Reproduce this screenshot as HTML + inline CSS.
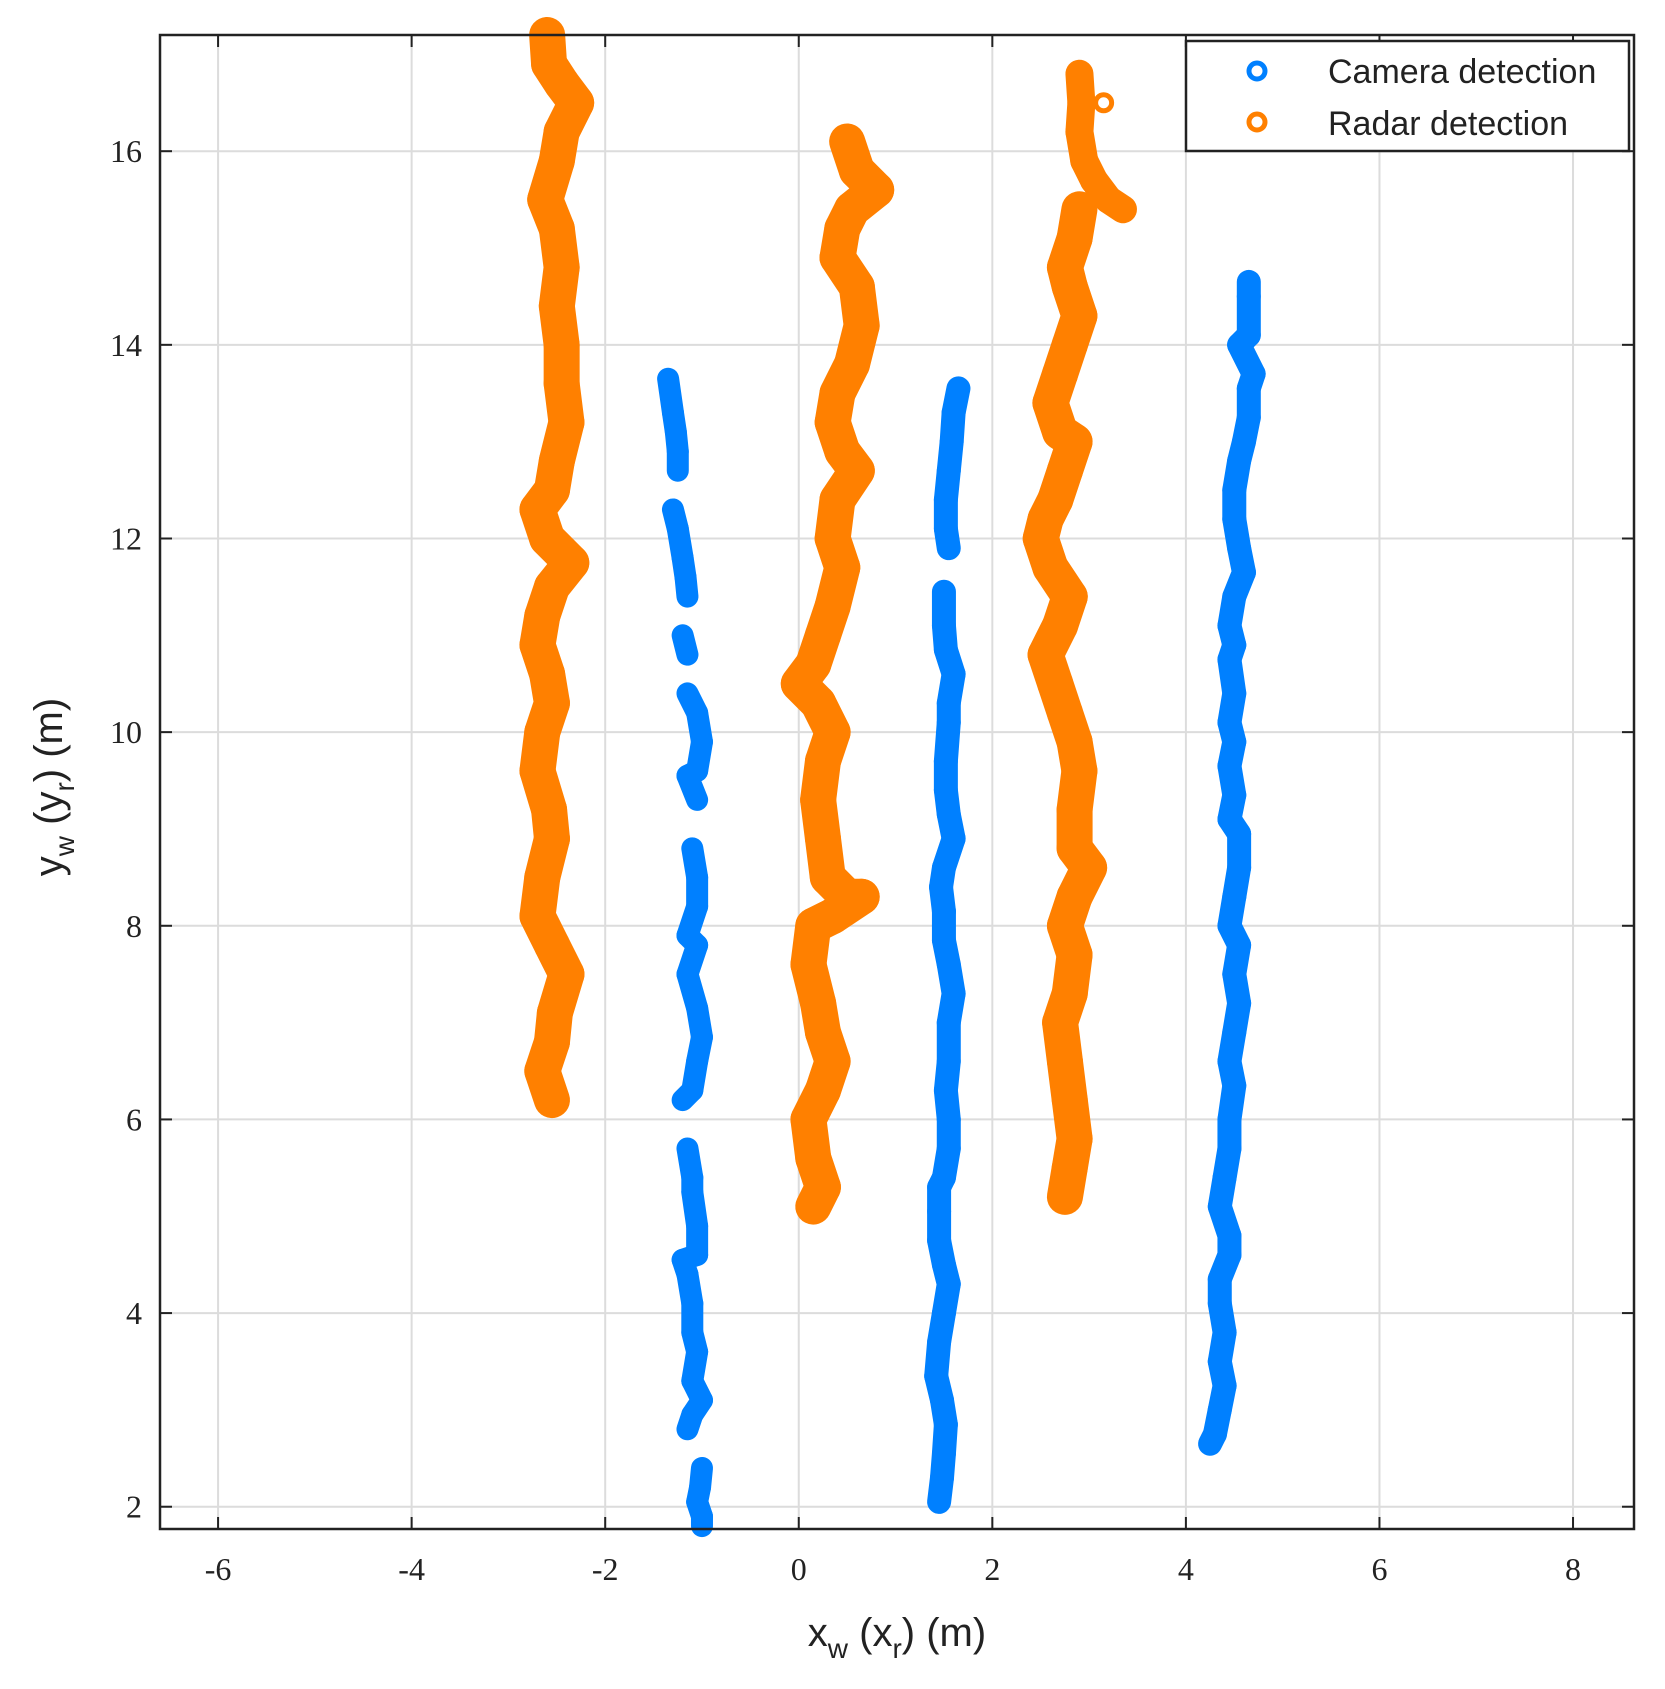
<!DOCTYPE html>
<html><head><meta charset="utf-8"><style>
body{margin:0;background:#fff;}
svg{display:block;}
</style></head><body>
<svg id="chart" width="1665" height="1689" viewBox="0 0 1665 1689" xmlns="http://www.w3.org/2000/svg"></svg>
<script>
const xTicks=[-6,-4,-2,0,2,4,6,8];
const yTicks=[2,4,6,8,10,12,14,16];
const radarA=[[-2.6,17.2],[-2.58,16.9],[-2.45,16.7],[-2.3,16.5],[-2.45,16.2],[-2.5,15.9],[-2.62,15.5],[-2.5,15.2],[-2.45,14.8],[-2.5,14.4],[-2.45,14.0],[-2.45,13.6],[-2.4,13.2],[-2.5,12.8],[-2.55,12.5],[-2.7,12.3],[-2.6,12.0],[-2.35,11.75],[-2.55,11.5],[-2.65,11.2],[-2.7,10.9],[-2.6,10.6],[-2.55,10.3],[-2.65,10.0],[-2.7,9.6],[-2.58,9.2],[-2.55,8.9],[-2.65,8.5],[-2.7,8.1],[-2.55,7.8],[-2.4,7.5],[-2.52,7.1],[-2.55,6.8],[-2.65,6.5],[-2.55,6.2]];
const radarB=[[0.5,16.1],[0.6,15.8],[0.8,15.6],[0.55,15.4],[0.45,15.2],[0.4,14.9],[0.6,14.6],[0.65,14.2],[0.55,13.8],[0.4,13.5],[0.35,13.2],[0.45,12.9],[0.6,12.7],[0.4,12.4],[0.35,12.0],[0.45,11.7],[0.35,11.3],[0.25,11.0],[0.15,10.7],[0.0,10.5],[0.2,10.3],[0.35,10.0],[0.25,9.7],[0.2,9.3],[0.25,8.9],[0.3,8.5],[0.5,8.3],[0.65,8.3],[0.35,8.1],[0.15,8.0],[0.1,7.6],[0.2,7.2],[0.25,6.9],[0.35,6.6],[0.25,6.3],[0.1,6.0],[0.15,5.6],[0.25,5.3],[0.15,5.1]];
const radarCTop=[[2.9,16.8],[2.92,16.5],[2.9,16.2],[2.95,15.9],[3.05,15.7],[3.2,15.5],[3.35,15.4]];
const radarCOutlier=[[3.15,16.5]];
const radarC=[[2.9,15.4],[2.85,15.1],[2.75,14.8],[2.8,14.6],[2.9,14.3],[2.8,14.0],[2.7,13.7],[2.6,13.4],[2.7,13.1],[2.85,13.0],[2.75,12.7],[2.65,12.4],[2.55,12.2],[2.5,12.0],[2.6,11.7],[2.8,11.4],[2.7,11.1],[2.55,10.8],[2.65,10.5],[2.75,10.2],[2.85,9.9],[2.9,9.6],[2.85,9.2],[2.85,8.8],[3.0,8.6],[2.85,8.3],[2.75,8.0],[2.85,7.7],[2.8,7.3],[2.7,7.0],[2.75,6.6],[2.8,6.2],[2.85,5.8],[2.8,5.5],[2.75,5.2]];
const camera1=[[-1.35,13.65],[-1.3,13.3],[-1.27,13.1],[-1.25,12.9],[-1.25,12.7],[-1.3,12.3],[-1.25,12.1],[-1.2,11.8],[-1.17,11.6],[-1.15,11.4],[-1.2,11.0],[-1.15,10.8],[-1.15,10.4],[-1.05,10.2],[-1.0,9.9],[-1.05,9.6],[-1.15,9.55],[-1.05,9.3],[-1.1,8.8],[-1.05,8.5],[-1.05,8.2],[-1.15,7.9],[-1.05,7.8],[-1.15,7.5],[-1.05,7.15],[-1.0,6.85],[-1.05,6.6],[-1.1,6.3],[-1.2,6.2],[-1.15,5.7],[-1.1,5.4],[-1.1,5.25],[-1.05,4.9],[-1.05,4.6],[-1.2,4.55],[-1.15,4.4],[-1.1,4.1],[-1.1,3.8],[-1.05,3.6],[-1.1,3.3],[-1.0,3.1],[-1.1,2.95],[-1.15,2.8],[-1.0,2.4],[-1.02,2.2],[-1.05,2.05],[-1.0,1.9],[-1.0,1.8]];
const camera2=[[1.65,13.55],[1.6,13.3],[1.58,13.0],[1.55,12.7],[1.52,12.4],[1.52,12.1],[1.55,11.9],[1.5,11.45],[1.5,11.1],[1.52,10.85],[1.6,10.6],[1.55,10.3],[1.55,10.1],[1.52,9.7],[1.52,9.4],[1.55,9.15],[1.6,8.9],[1.5,8.6],[1.47,8.4],[1.5,8.15],[1.5,7.85],[1.55,7.6],[1.6,7.3],[1.55,7.0],[1.55,6.6],[1.52,6.3],[1.55,6.0],[1.55,5.7],[1.5,5.4],[1.45,5.3],[1.45,5.05],[1.45,4.75],[1.5,4.5],[1.55,4.3],[1.5,4.0],[1.45,3.7],[1.42,3.35],[1.48,3.1],[1.52,2.85],[1.5,2.55],[1.48,2.3],[1.45,2.05]];
const camera3=[[4.65,14.65],[4.65,14.5],[4.65,14.1],[4.55,14.0],[4.7,13.7],[4.65,13.55],[4.65,13.25],[4.6,13.0],[4.55,12.8],[4.5,12.5],[4.5,12.2],[4.55,11.9],[4.6,11.65],[4.5,11.4],[4.45,11.1],[4.5,10.9],[4.45,10.75],[4.5,10.4],[4.45,10.1],[4.5,9.9],[4.45,9.65],[4.5,9.35],[4.45,9.1],[4.55,8.95],[4.55,8.6],[4.5,8.3],[4.45,8.0],[4.55,7.8],[4.5,7.5],[4.55,7.2],[4.5,6.9],[4.45,6.6],[4.5,6.35],[4.45,6.0],[4.45,5.7],[4.4,5.4],[4.35,5.1],[4.45,4.8],[4.45,4.6],[4.35,4.35],[4.35,4.1],[4.4,3.8],[4.35,3.5],[4.4,3.25],[4.35,3.0],[4.3,2.75],[4.25,2.65]];

const NS='http://www.w3.org/2000/svg';
const svg=document.getElementById('chart');
const L=160,R=1634,T=35,B=1529;
const X0=-6.6,X1=8.63,Y0=1.77,Y1=17.2;
const sx=v=>L+(v-X0)/(X1-X0)*(R-L);
const sy=v=>B-(v-Y0)/(Y1-Y0)*(B-T);
function mk(tag,attrs,parent){const e=document.createElementNS(NS,tag);for(const k in attrs)e.setAttribute(k,attrs[k]);(parent||svg).appendChild(e);return e;}

const grid=mk('g',{});


xTicks.forEach(t=>{
  const l=mk('line',{x1:sx(t),x2:sx(t),y1:T,y2:B,stroke:'#dcdcdc','stroke-width':2},grid);
  
  
  mk('line',{x1:sx(t),x2:sx(t),y1:B,y2:B-12,stroke:'#222','stroke-width':2},grid);
  mk('line',{x1:sx(t),x2:sx(t),y1:T,y2:T+12,stroke:'#222','stroke-width':2},grid);
  const tx=mk('text',{x:sx(t),y:1580,'text-anchor':'middle','font-family':'Liberation Serif, serif','font-size':32,fill:'#222'});
  tx.textContent=t;
  
  
});
yTicks.forEach(t=>{
  const l=mk('line',{x1:L,x2:R,y1:sy(t),y2:sy(t),stroke:'#dcdcdc','stroke-width':2},grid);
  
  
  mk('line',{x1:L,x2:L+12,y1:sy(t),y2:sy(t),stroke:'#222','stroke-width':2},grid);
  mk('line',{x1:R,x2:R-12,y1:sy(t),y2:sy(t),stroke:'#222','stroke-width':2},grid);
  const tx=mk('text',{x:142,y:sy(t)+11,'text-anchor':'end','font-family':'Liberation Serif, serif','font-size':32,fill:'#222'});
  tx.textContent=t;
  
  
});

function track(pts,color,thick,thr,name){
  const g=mk('g',{});
  
  
  for(let i=1;i<pts.length;i++){
    const a=pts[i-1],b=pts[i];
    if(Math.hypot(a[0]-b[0],a[1]-b[1])<thr){
      mk('line',{x1:sx(a[0]),y1:sy(a[1]),x2:sx(b[0]),y2:sy(b[1]),stroke:color,'stroke-width':thick,'stroke-linecap':'round'},g);
    }
  }
  pts.forEach(p=>{
    const c=mk('circle',{cx:sx(p[0]),cy:sy(p[1]),r:8,fill:'none',stroke:color,'stroke-width':5},g);
    
    
  });
}
const OR='#ff8000',BL='#0080ff';
track(radarA,OR,36,0.6,'radar-track-1');
track(radarB,OR,36,0.6,'radar-track-2');
track(radarCTop,OR,28,0.6,'radar-track-3-top');
track(radarCOutlier,OR,0,0.6,'radar-outlier');
track(radarC,OR,36,0.6,'radar-track-3');
track(camera1,BL,22,0.4,'camera-track-1');
track(camera2,BL,24,0.42,'camera-track-2');
track(camera3,BL,24,0.42,'camera-track-3');

const frame=mk('rect',{x:L,y:T,width:R-L,height:B-T,fill:'none',stroke:'#222','stroke-width':2.5});


</script>
<svg style="position:absolute;left:0;top:0" width="1665" height="1689">
  <g>
    <rect x="1186" y="41" width="443" height="110" fill="#fff" stroke="#222" stroke-width="2.5"/>
    <circle cx="1257" cy="71" r="8" fill="none" stroke="#0080ff" stroke-width="5"/>
    <text x="1328" y="83" font-family="Liberation Sans, sans-serif" font-size="34" fill="#222">Camera detection</text>
    <circle cx="1257" cy="122" r="8" fill="none" stroke="#ff8000" stroke-width="5"/>
    <text x="1328" y="135" font-family="Liberation Sans, sans-serif" font-size="34" fill="#222">Radar detection</text>
  </g>
  <text x="897" y="1646" text-anchor="middle" font-family="Liberation Sans, sans-serif" font-size="40" fill="#222">x<tspan font-size="28" dy="12">w</tspan><tspan dy="-12"> (x</tspan><tspan font-size="28" dy="12">r</tspan><tspan dy="-12">) (m)</tspan></text>
  <text transform="translate(62,787) rotate(-90)" text-anchor="middle" font-family="Liberation Sans, sans-serif" font-size="40" fill="#222">y<tspan font-size="28" dy="12">w</tspan><tspan dy="-12"> (y</tspan><tspan font-size="28" dy="12">r</tspan><tspan dy="-12">) (m)</tspan></text>
</svg>
</body></html>
